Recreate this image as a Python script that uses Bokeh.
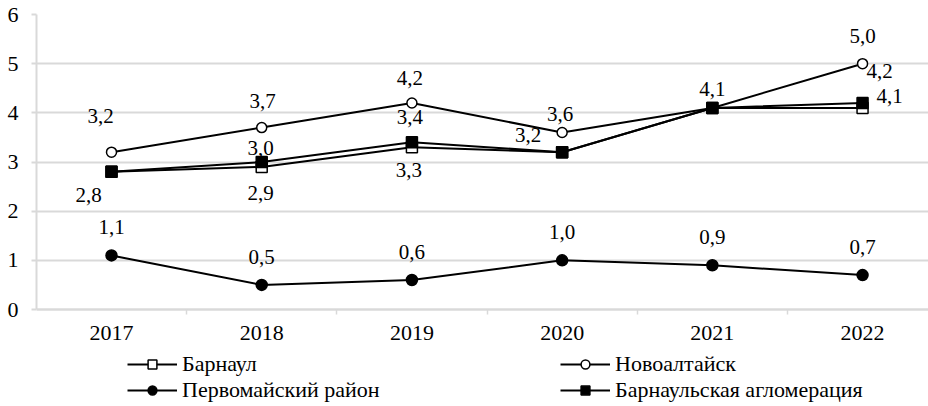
from bokeh.plotting import figure
from bokeh.models import ColumnDataSource, FixedTicker, Legend, LegendItem, Range1d
from bokeh.embed import file_html
from bokeh.resources import INLINE
from bokeh.core.properties import value

# ---- data ----
years = ["2017", "2018", "2019", "2020", "2021", "2022"]
barnaul = [2.8, 2.9, 3.3, 3.2, 4.1, 4.1]
novoaltaysk = [3.2, 3.7, 4.2, 3.6, 4.1, 5.0]
pervomaysky = [1.1, 0.5, 0.6, 1.0, 0.9, 0.7]
agglomeration = [2.8, 3.0, 3.4, 3.2, 4.1, 4.2]
y_ticks = [0, 1, 2, 3, 4, 5, 6]

# label offsets in screen px (dx, dy), None = label not shown
lab_barnaul = [(-23, 23), (-1, 26), (-3, 23), (-34, -17), None, (27, -12)]
lab_novoalt = [(-11, -36), (1, -27), (-2, -25), (-2, -19), (0, -19), (0, -28)]
lab_perv = [(0, -28)] * 6
lab_aggl = [None, (-1, -14), (-2, -25), None, None, (17, -32)]

FONT = "'Liberation Serif', 'Times New Roman', serif"
FS = "22px"
LFS = "21px"
GRID = "#d9d9d9"

xs = list(range(len(years)))

p = figure(width=928, height=404,
           x_range=Range1d(-0.4993, 5.439), y_range=Range1d(-1.932, 6),
           output_backend="svg", toolbar_location=None,
           min_border_left=36, min_border_right=0,
           min_border_top=14, min_border_bottom=0)
p.outline_line_color = None
p.background_fill_color = "white"
p.border_fill_color = "white"

# x axis sits at value 0 inside the frame, legend space below it
p.xaxis.fixed_location = 0
p.xaxis.ticker = FixedTicker(ticks=xs, minor_ticks=[i - 0.5 for i in range(len(years) + 1)])
p.xaxis.major_label_overrides = {i: y for i, y in enumerate(years)}
p.xaxis.major_tick_out = 0
p.xaxis.major_tick_in = 0
p.xaxis.minor_tick_out = 5
p.xaxis.minor_tick_in = 0
p.xaxis.minor_tick_line_color = GRID
p.xaxis.minor_tick_line_width = 1.5
p.xaxis.axis_line_color = GRID
p.xaxis.axis_line_width = 2
p.xaxis.major_label_standoff = 11
p.xaxis.major_label_text_font = FONT
p.xaxis.major_label_text_font_size = FS
p.xaxis.major_label_text_color = "black"

p.yaxis.ticker = FixedTicker(ticks=y_ticks)
p.yaxis.bounds = (0, 6)
p.yaxis.minor_tick_line_color = None
p.yaxis.major_tick_out = 5
p.yaxis.major_tick_in = 0
p.yaxis.major_tick_line_color = GRID
p.yaxis.major_tick_line_width = 2
p.yaxis.axis_line_color = GRID
p.yaxis.axis_line_width = 2
p.yaxis.major_label_standoff = 13
p.yaxis.major_label_text_font = FONT
p.yaxis.major_label_text_font_size = FS
p.yaxis.major_label_text_color = "black"

p.xgrid.visible = False
p.ygrid.ticker = FixedTicker(ticks=y_ticks)
p.ygrid.grid_line_color = GRID
p.ygrid.grid_line_width = 2

series = [
    ("Барнаул", barnaul, "square", "white", 11, lab_barnaul),
    ("Новоалтайск", novoaltaysk, "circle", "white", 10, lab_novoalt),
    ("Первомайский район", pervomaysky, "circle", "black", 11, lab_perv),
    ("Барнаульская агломерация", agglomeration, "square", "black", 11, lab_aggl),
]

renderers = {}
lx, ly, lt, ldx, ldy = [], [], [], [], []
for name, vals, marker, fill, size, labs in series:
    src = ColumnDataSource(dict(x=xs, y=vals))
    ln = p.line("x", "y", source=src, line_color="black", line_width=2)
    sc = p.scatter("x", "y", source=src, marker=marker, size=size,
                   fill_color=fill, line_color="black", line_width=1.5)
    renderers[name] = [ln, sc]
    for i, v in enumerate(vals):
        if labs[i] is None:
            continue
        lx.append(xs[i]); ly.append(v)
        lt.append(f"{v:.1f}".replace(".", ","))
        ldx.append(labs[i][0]); ldy.append(labs[i][1])

lsrc = ColumnDataSource(dict(x=lx, y=ly, t=lt, dx=ldx, dy=ldy))
p.text("x", "y", text="t", source=lsrc, x_offset="dx", y_offset="dy",
       text_align="center", text_baseline="middle",
       text_font=value(FONT), text_font_size=LFS, text_color="black")

def make_legend(names, loc):
    leg = Legend(items=[LegendItem(label=n, renderers=renderers[n]) for n in names],
                 location=loc, orientation="vertical")
    leg.border_line_color = None
    leg.background_fill_alpha = 0
    leg.padding = 0
    leg.margin = 0
    leg.spacing = 0
    leg.glyph_width = 50
    leg.glyph_height = 22
    leg.label_height = 20
    leg.label_standoff = 5
    leg.label_text_font = FONT
    leg.label_text_font_size = FS
    leg.label_text_color = "black"
    return leg

p.add_layout(make_legend(["Барнаул", "Первомайский район"], (91, 1)))
p.add_layout(make_legend(["Новоалтайск", "Барнаульская агломерация"], (524, 1)))

open("out.html", "w").write(file_html(p, INLINE))
